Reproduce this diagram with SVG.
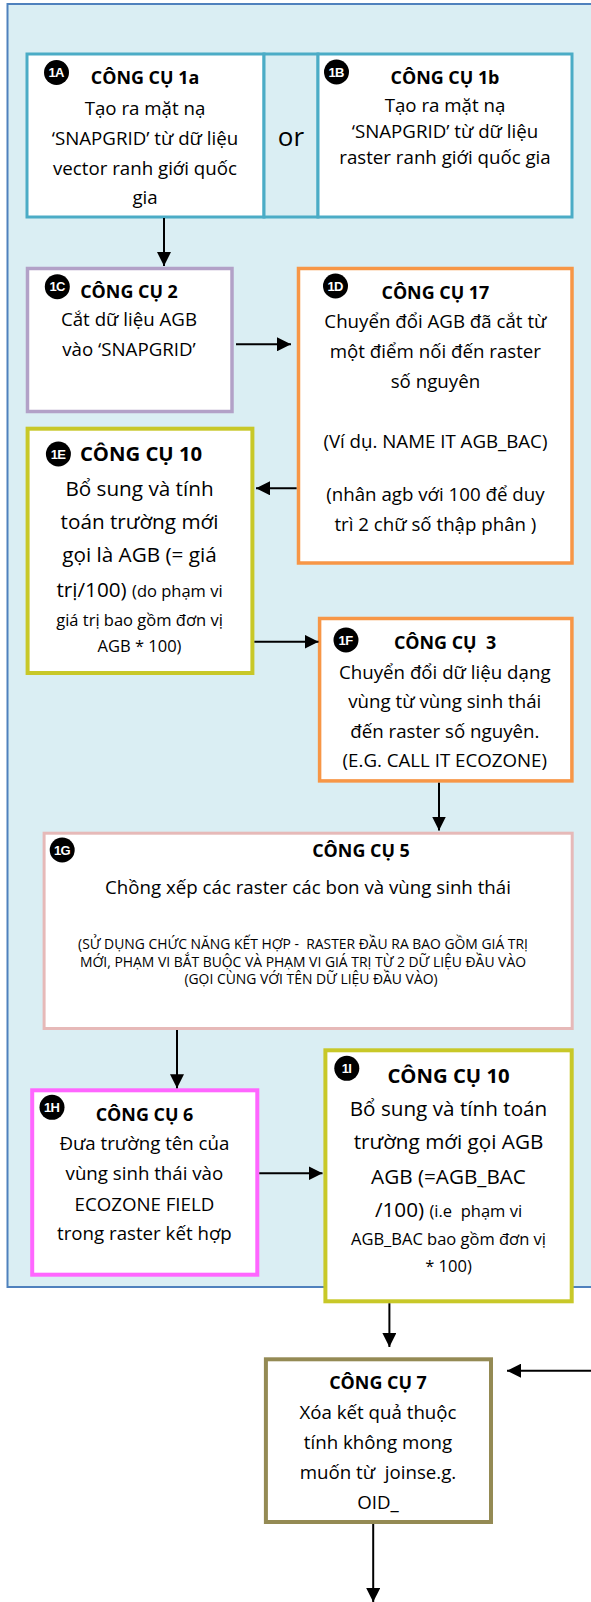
<svg xmlns="http://www.w3.org/2000/svg" width="591" height="1602" viewBox="0 0 591 1602">
<defs>
<style>
.t{font-family:'Open Sans','Noto Sans','Liberation Sans',sans-serif;fill:#000;text-anchor:middle;font-size:18.7px}
.h{font-weight:bold;font-size:17.9px}
.H{font-weight:bold;font-size:20.3px}
.L{font-size:20.7px}
.s{font-size:16.5px}
.c{font-size:13.9px}
.p{white-space:pre}
.bd circle{fill:#000}
.bd text{font-family:'Liberation Sans','DejaVu Sans',sans-serif;font-weight:bold;font-size:13px;fill:#fff;text-anchor:middle;letter-spacing:-0.7px}
.box{fill:#fff}
.cn line{stroke:#000;stroke-width:2;marker-end:url(#ah)}
</style>
<marker id="ah" viewBox="0 0 14 14" refX="14" refY="7" markerWidth="14" markerHeight="14" markerUnits="userSpaceOnUse" orient="auto">
<path d="M0,0 L14,7 L0,14 z" fill="#000"/>
</marker>
</defs>
<rect id="panel" x="7.5" y="4" width="600" height="1283" fill="#daeef3" stroke="#4f81bd" stroke-width="2"/>

<g id="n1A">
<rect class="box" x="27" y="54" width="237" height="163" stroke="#4bacc6" stroke-width="3"/>
<g class="bd"><circle cx="56.5" cy="72.5" r="12.5"/><text x="56" y="77.2">1A</text></g>
<text class="t h" x="145" y="84">CÔNG CỤ 1a</text>
<text class="t" x="145" y="115">Tạo ra mặt nạ</text>
<text class="t" x="145" y="145">‘SNAPGRID’ từ dữ liệu</text>
<text class="t" x="145" y="175">vector ranh giới quốc</text>
<text class="t" x="145" y="204">gia</text>
</g>
<g id="nOr">
<rect x="264" y="54" width="54" height="163" fill="#daeef3" stroke="#4bacc6" stroke-width="3"/>
<text class="t" x="291" y="146" style="font-size:26px">or</text>
</g>
<g id="n1B">
<rect class="box" x="318" y="54" width="254" height="163" stroke="#4bacc6" stroke-width="3"/>
<g class="bd"><circle cx="336.5" cy="72" r="12.5"/><text x="336" y="76.7">1B</text></g>
<text class="t h" x="445" y="84">CÔNG CỤ 1b</text>
<text class="t" x="445" y="111.5">Tạo ra mặt nạ</text>
<text class="t" x="445" y="138">‘SNAPGRID’ từ dữ liệu</text>
<text class="t" x="445" y="164">raster ranh giới quốc gia</text>
</g>

<g id="n1C">
<rect class="box" x="27.5" y="268.5" width="204.5" height="143" stroke="#b2a1c7" stroke-width="3.5"/>
<g class="bd"><circle cx="57.3" cy="286.7" r="12.5"/><text x="57" y="291.4">1C</text></g>
<text class="t h" x="129" y="298">CÔNG CỤ 2</text>
<text class="t" x="129" y="326">Cắt dữ liệu AGB</text>
<text class="t" x="129" y="356">vào ‘SNAPGRID’</text>
</g>

<g id="n1D">
<rect class="box" x="298.5" y="268.5" width="273.5" height="294.5" stroke="#f79646" stroke-width="3.5"/>
<g class="bd"><circle cx="335.5" cy="286" r="12.5"/><text x="335" y="290.7">1D</text></g>
<text class="t h" x="435.4" y="299">CÔNG CỤ 17</text>
<text class="t" x="435.4" y="328">Chuyển đổi AGB đã cắt từ</text>
<text class="t" x="435.4" y="358">một điểm nối đến raster</text>
<text class="t" x="435.4" y="388">số nguyên</text>
<text class="t" x="435.4" y="448">(Ví dụ. NAME IT AGB_BAC)</text>
<text class="t" x="435.4" y="501">(nhân agb với 100 để duy</text>
<text class="t" x="435.4" y="531">trì 2 chữ số thập phân )</text>
</g>

<g id="n1E">
<rect class="box" x="27.6" y="428.7" width="224.8" height="244.3" stroke="#c8c828" stroke-width="4"/>
<g class="bd"><circle cx="58.4" cy="454" r="12.5"/><text x="58" y="458.7">1E</text></g>
<text class="t H" x="141" y="461">CÔNG CỤ 10</text>
<text class="t L" x="139.5" y="496">Bổ sung và tính</text>
<text class="t L" x="139.5" y="528.5">toán trường mới</text>
<text class="t L" x="139.5" y="562">gọi là AGB (= giá</text>
<text class="t L" x="139.5" y="597">trị/100) <tspan class="s">(do phạm vi</tspan></text>
<text class="t s" x="139.5" y="626">giá trị bao gồm đơn vị</text>
<text class="t s" x="139.5" y="652">AGB * 100)</text>
</g>

<g id="n1F">
<rect class="box" x="319.6" y="618.5" width="252.3" height="162.4" stroke="#f79646" stroke-width="3.5"/>
<g class="bd"><circle cx="346" cy="640" r="12.5"/><text x="345.5" y="644.7">1F</text></g>
<text class="t h p" x="445" y="649">CÔNG CỤ  3</text>
<text class="t" x="444.8" y="679">Chuyển đổi dữ liệu dạng</text>
<text class="t" x="444.8" y="708">vùng từ vùng sinh thái</text>
<text class="t" x="444.8" y="738">đến raster số nguyên.</text>
<text class="t" x="444.8" y="767">(E.G. CALL IT ECOZONE)</text>
</g>

<g id="n1G">
<rect class="box" x="44.1" y="833.2" width="528.1" height="195.3" stroke="#e6b9b8" stroke-width="3"/>
<g class="bd"><circle cx="62.2" cy="850" r="12.5"/><text x="62" y="854.7">1G</text></g>
<text class="t h" x="361" y="857">CÔNG CỤ 5</text>
<text class="t" x="308" y="894">Chồng xếp các raster các bon và vùng sinh thái</text>
<text class="t c p" x="303" y="948.5">(SỬ DỤNG CHỨC NĂNG KẾT HỢP -  RASTER ĐẦU RA BAO GỒM GIÁ TRỊ</text>
<text class="t c" x="303" y="966.5">MỚI, PHẠM VI BẮT BUỘC VÀ PHẠM VI GIÁ TRỊ TỪ 2 DỮ LIỆU ĐẦU VÀO</text>
<text class="t c" x="311" y="984">(GỌI CÙNG VỚI TÊN DỮ LIỆU ĐẦU VÀO)</text>
</g>

<g id="n1H">
<rect class="box" x="32.2" y="1090.3" width="225.1" height="184.4" stroke="#ff66ff" stroke-width="4"/>
<g class="bd"><circle cx="52" cy="1107.3" r="12.5"/><text x="51.5" y="1112">1H</text></g>
<text class="t h" x="144.5" y="1120.5">CÔNG CỤ 6</text>
<text class="t" x="144.4" y="1150">Đưa trường tên của</text>
<text class="t" x="144.4" y="1180">vùng sinh thái vào</text>
<text class="t" x="144.4" y="1210.5">ECOZONE FIELD</text>
<text class="t" x="144.4" y="1240">trong raster kết hợp</text>
</g>

<g id="n1I">
<rect class="box" x="325.4" y="1050.3" width="246.3" height="251" stroke="#c8c828" stroke-width="4"/>
<g class="bd"><circle cx="346.8" cy="1068.3" r="12.5"/><text x="346.5" y="1073">1I</text></g>
<text class="t H" x="448.5" y="1082.5">CÔNG CỤ 10</text>
<text class="t L" x="448.5" y="1116">Bổ sung và tính toán</text>
<text class="t L" x="448.5" y="1149">trường mới gọi AGB</text>
<text class="t L" x="448.5" y="1184">AGB (=AGB_BAC</text>
<text class="t L p" x="448.5" y="1217">/100) <tspan class="s">(i.e  phạm vi</tspan></text>
<text class="t s" x="448.5" y="1245">AGB_BAC bao gồm đơn vị</text>
<text class="t s" x="448.5" y="1271.5">* 100)</text>
</g>

<g id="n7">
<rect class="box" x="265.9" y="1359.3" width="225.1" height="162.7" stroke="#948a54" stroke-width="4"/>
<text class="t h" x="378" y="1389">CÔNG CỤ 7</text>
<text class="t" x="378" y="1419">Xóa kết quả thuộc</text>
<text class="t" x="378" y="1448.5">tính không mong</text>
<text class="t p" x="378" y="1478.5">muốn từ  joinse.g.</text>
<text class="t" x="378" y="1508.5">OID_</text>
</g>

<g id="connectors" class="cn">
<line x1="164" y1="218" x2="164" y2="266"/>
<line x1="236" y1="344.3" x2="291" y2="344.3"/>
<line x1="296.6" y1="488.3" x2="256" y2="488.3"/>
<line x1="254.4" y1="641.7" x2="318.5" y2="641.7"/>
<line x1="439" y1="782.7" x2="439" y2="830.5"/>
<line x1="177" y1="1030" x2="177" y2="1088.3"/>
<line x1="259.3" y1="1173.3" x2="322.5" y2="1173.3"/>
<line x1="389.4" y1="1303.3" x2="389.4" y2="1347"/>
<line x1="591" y1="1370.7" x2="507" y2="1370.7"/>
<line x1="373.2" y1="1524" x2="373.2" y2="1602"/>
</g>
</svg>
